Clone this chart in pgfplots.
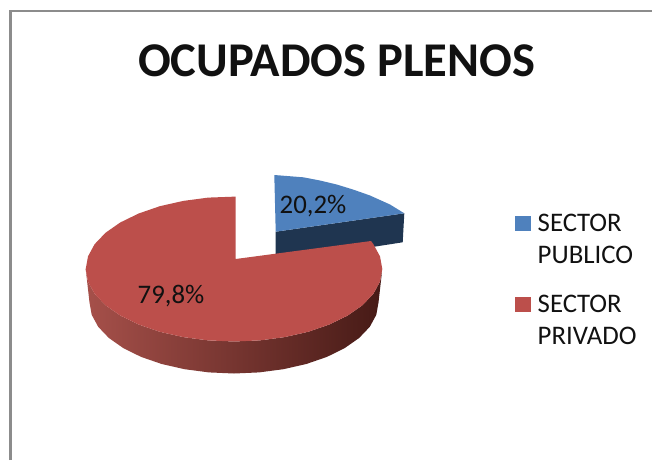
\documentclass[border=0pt]{standalone}
\usepackage{pgfplots}
\pgfplotsset{compat=1.18}
\usepackage{fontspec}
\setmainfont{Carlito}
\definecolor{blueTop}{HTML}{4F81BD}
\definecolor{blueSide}{HTML}{1F3550}
\definecolor{redTop}{HTML}{BC4F4B}
\definecolor{frameGray}{HTML}{8C8C8C}
\definecolor{ink}{HTML}{111111}
\begin{document}
\begin{tikzpicture}
\path[use as bounding box] (0,0) rectangle (652pt,460pt);
\begin{axis}[
  hide axis, scale only axis, width=652pt, height=460pt,
  xmin=0, xmax=652, ymin=0, ymax=460, y dir=reverse,
  clip=true, at={(0,0)}, anchor=south west,
]
% chart frame
\addplot[frameGray, line width=2.5pt, no markers] coordinates {(10.5,460) (10.5,11) (652,11)};
% blue slice: wall then top
\addplot[fill=blueSide, draw=none, no markers] coordinates {(275.7,231.7) (404.3,213.3) (402.7,242.3) (275.7,262)} -- cycle;
\addplot[fill=blueTop, draw=none, no markers] coordinates {(275.7,231.7) (274.3,175) (303.3,177.3) (320,180.5) (336.7,184.5) (353,189.5) (370,195.5) (390,204.5) (404.3,213.3)} -- cycle;
% red slice: rim
\addplot[draw=none, no markers, left color={rgb,255:red,166;green,80;blue,74}, middle color={rgb,255:red,112;green,48;blue,45}, right color={rgb,255:red,70;green,26;blue,22}] coordinates {
 (85.7,269) (88,281.6) (94.6,293.8) (105.6,305.3) (120.4,315.6) (138.7,324.5) (159.8,331.8) (183.3,337.1) (208.2,340.4) (234,341.5) (259.8,340.4) (284.7,337.1) (308.2,331.8) (329.3,324.5) (347.6,315.6) (362.4,305.3) (373.4,293.8) (380,281.6) (382.3,269)
 (378.5,302.5) (376.3,314.8) (369.8,326.8) (359.1,338) (344.7,348.1) (326.9,356.9) (306.3,364) (283.4,369.2) (259.1,372.4) (234,373.5) (208.9,372.4) (184.6,369.2) (161.7,364) (141.1,356.9) (123.3,348.1) (108.9,338) (98.2,326.8) (91.7,314.8) (89.5,302.5)
} -- cycle;
% red slice: top
\addplot[fill=redTop, draw=none, no markers] coordinates {
 (235.7,259) (371,241) (373.4,244.2) (380,256.4) (382.3,269) (380,281.6) (373.4,293.8) (362.4,305.3) (347.6,315.6) (329.3,324.5) (308.2,331.8) (284.7,337.1) (259.8,340.4) (234,341.5) (208.2,340.4) (183.3,337.1) (159.8,331.8) (138.7,324.5) (120.4,315.6) (105.6,305.3) (94.6,293.8) (88,281.6) (85.7,269) (88,256.4) (94.6,244.2) (105.6,232.7) (120.4,222.4) (138.7,213.5) (159.8,206.2) (183.3,200.9) (208.2,197.6) (235.7,196.6)
} -- cycle;
% legend keys
\addplot[fill=blueTop, draw=none, no markers] coordinates {(515.3,216) (530.7,216) (530.7,230.7) (515.3,230.7)} -- cycle;
\addplot[fill=redTop, draw=none, no markers] coordinates {(515.3,297.3) (530.7,297.3) (530.7,311.7) (515.3,311.7)} -- cycle;
% texts
\node[anchor=base, inner sep=0pt, text=ink, font=\bfseries\fontsize{48.5}{48.5}\selectfont] at (axis cs:336.5,76) {OCUPADOS PLENOS};
\node[anchor=base west, inner sep=0pt, text=ink, font=\fontsize{26.8}{26.8}\selectfont] at (axis cs:279.5,213) {20,2\%};
\node[anchor=base west, inner sep=0pt, text=ink, font=\fontsize{26.8}{26.8}\selectfont] at (axis cs:137.5,303) {79,8\%};
\node[anchor=base west, inner sep=0pt, text=ink, font=\fontsize{26.8}{26.8}\selectfont] at (axis cs:537.5,231.7) {SECTOR};
\node[anchor=base west, inner sep=0pt, text=ink, font=\fontsize{26.8}{26.8}\selectfont] at (axis cs:537.5,263.3) {PUBLICO};
\node[anchor=base west, inner sep=0pt, text=ink, font=\fontsize{26.8}{26.8}\selectfont] at (axis cs:537.5,312.7) {SECTOR};
\node[anchor=base west, inner sep=0pt, text=ink, font=\fontsize{26.8}{26.8}\selectfont] at (axis cs:537.5,344) {PRIVADO};
\end{axis}
\end{tikzpicture}
\end{document}
